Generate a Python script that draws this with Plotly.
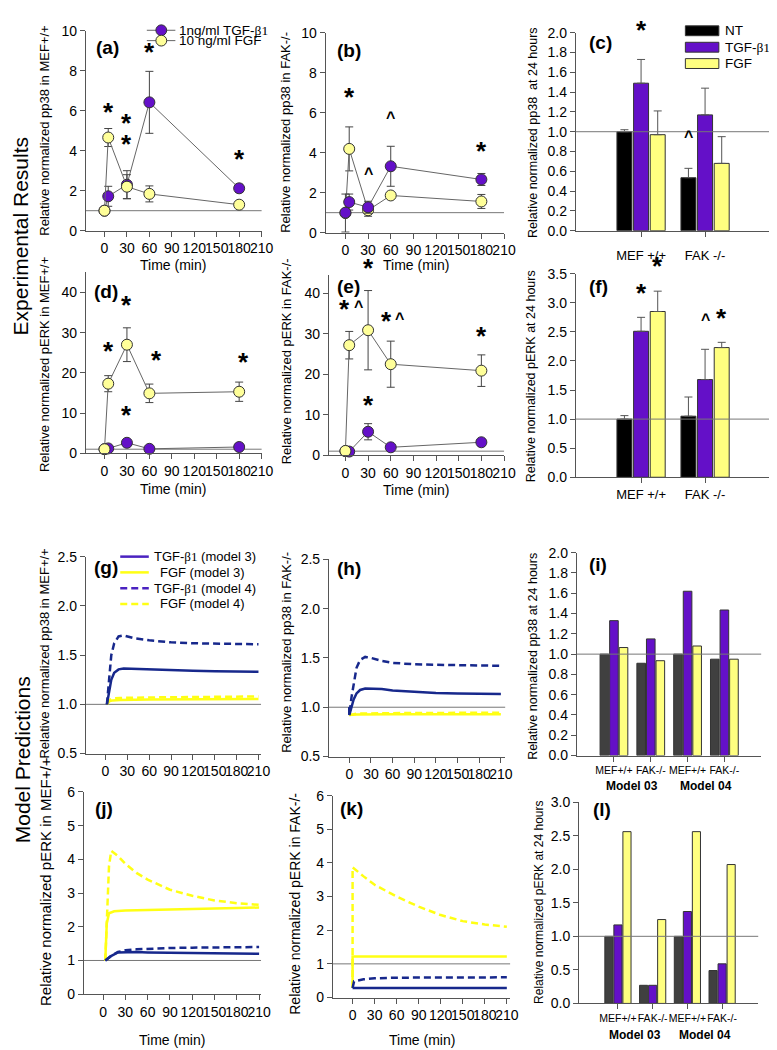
import plotly.graph_objects as go

W, H = 777, 1050
FONT = "Arial, 'Liberation Sans', sans-serif"

PURPLE = "#6410c8"
YEL_MARK = "#ffff99"
BAR_YEL = "#ffff80"
NAVY = "#17288c"
LINE_YEL = "#ffff14"
LEG_PURPLE = "#4a22c0"

# -------------------- DATA --------------------
time_points = [0, 5, 30, 60, 180]
time_ticks = [0, 30, 60, 90, 120, 150, 180, 210]

# (a) pp38 MEF+/+
a_tgf = [1.0, 1.72, 2.3, 6.42, 2.12]
a_tgf_err = [0.0, 0.5, 0.7, 1.55, 0.2]
a_fgf = [1.0, 4.66, 2.2, 1.84, 1.3]
a_fgf_err = [0.05, 0.45, 0.6, 0.4, 0.1]
# (b) pp38 FAK-/-
b_tgf = [1.0, 1.53, 1.27, 3.32, 2.66]
b_tgf_err = [0.0, 0.4, 0.3, 1.0, 0.3]
b_fgf = [0.98, 4.19, 1.12, 1.86, 1.56]
b_fgf_err = [0.95, 1.1, 0.3, 0.12, 0.35]
# (d) pERK MEF+/+
d_tgf = [1.0, 1.2, 2.6, 1.1, 1.55]
d_tgf_err = [0.0, 0.3, 0.5, 0.2, 0.3]
d_fgf = [1.0, 17.3, 27.0, 14.9, 15.3]
d_fgf_err = [0.2, 2.0, 4.2, 2.3, 2.4]
# (e) pERK FAK-/-
e_tgf = [1.0, 0.9, 5.8, 1.95, 3.2]
e_tgf_err = [0.0, 0.3, 2.0, 0.4, 0.6]
e_fgf = [1.05, 27.2, 30.9, 22.5, 20.9]
e_fgf_err = [0.2, 3.4, 9.8, 5.7, 3.9]

# (c), (f) 24 h bars
cells = ["MEF +/+", "FAK -/-"]
c_nt = [1.0, 0.535]
c_nt_err = [0.02, 0.095]
c_tgf = [1.49, 1.17]
c_tgf_err = [0.24, 0.27]
c_fgf = [0.97, 0.68]
c_fgf_err = [0.24, 0.27]
f_nt = [1.0, 1.05]
f_nt_err = [0.06, 0.33]
f_tgf = [2.51, 1.68]
f_tgf_err = [0.24, 0.52]
f_fgf = [2.85, 2.23]
f_fgf_err = [0.35, 0.09]

# (i), (l) model bars
model_cells = ["MEF+/+", "FAK-/-", "MEF+/+", "FAK-/-"]
model_groups = ["Model 03", "Model 04"]
i_nt = [1.0, 0.91, 1.0, 0.95]
i_tgf = [1.33, 1.15, 1.62, 1.435]
i_fgf = [1.065, 0.935, 1.08, 0.95]
l_nt = [1.0, 0.27, 1.0, 0.49]
l_tgf = [1.17, 0.27, 1.37, 0.59]
l_fgf = [2.56, 1.25, 2.56, 2.07]

# (g) model pp38 MEF+/+
g_t_tgf = [2, 5, 8, 12, 18, 25, 40, 60, 90, 120, 150, 180, 210]
g_tgf3 = [1.0, 1.15, 1.25, 1.32, 1.355, 1.365, 1.36, 1.355, 1.35, 1.34, 1.335, 1.33, 1.33]
g_tgf4 = [1.0, 1.3, 1.5, 1.62, 1.69, 1.70, 1.67, 1.65, 1.63, 1.62, 1.615, 1.61, 1.61]
g_t_fgf = [2, 5, 10, 20, 60, 120, 210]
g_fgf3 = [1.0, 1.03, 1.04, 1.045, 1.05, 1.052, 1.055]
g_fgf4 = [1.0, 1.04, 1.06, 1.065, 1.07, 1.075, 1.08]
# (h) model pp38 FAK-/-
h_t_tgf = [0, 0, 3, 6, 10, 15, 22, 30, 45, 60, 90, 120, 150, 180, 210]
h_tgf4 = [1.0, 0.92, 1.1, 1.25, 1.4, 1.48, 1.51, 1.50, 1.47, 1.45, 1.435, 1.43, 1.425, 1.42, 1.42]
h_tgf3 = [1.0, 0.92, 1.0, 1.08, 1.14, 1.175, 1.19, 1.19, 1.185, 1.17, 1.155, 1.145, 1.14, 1.135, 1.135]
h_t_fgf = [0, 10, 60, 120, 210]
h_fgf3 = [0.92, 0.925, 0.93, 0.93, 0.93]
h_fgf4 = [0.92, 0.935, 0.94, 0.945, 0.945]
# (j) model pERK MEF+/+
j_t_fgf4 = [3, 5, 8, 11, 20, 30, 45, 60, 90, 120, 150, 180, 210]
j_fgf4 = [1.0, 2.2, 3.8, 4.25, 4.1, 3.87, 3.6, 3.4, 3.1, 2.92, 2.78, 2.7, 2.65]
j_t_fgf3 = [3, 5, 8, 15, 30, 60, 90, 120, 150, 180, 210]
j_fgf3 = [1.0, 2.1, 2.4, 2.46, 2.48, 2.5, 2.52, 2.54, 2.55, 2.56, 2.57]
j_t_tgf = [3, 10, 20, 30, 45, 60, 90, 120, 150, 180, 210]
j_tgf4 = [1.0, 1.12, 1.25, 1.3, 1.33, 1.35, 1.37, 1.38, 1.39, 1.4, 1.4]
j_tgf3 = [1.0, 1.12, 1.24, 1.25, 1.25, 1.24, 1.23, 1.22, 1.21, 1.2, 1.2]
# (k) model pERK FAK-/-
k_t_fgf4 = [0, 0, 15, 30, 60, 90, 120, 150, 180, 210]
k_fgf4 = [0.28, 3.87, 3.6, 3.35, 3.0, 2.7, 2.45, 2.27, 2.17, 2.1]
k_t_fgf3 = [0, 0, 210]
k_fgf3 = [0.28, 1.22, 1.22]
k_t_tgf4 = [0, 2, 15, 30, 60, 120, 210]
k_tgf4 = [0.28, 0.48, 0.54, 0.57, 0.59, 0.6, 0.6]
k_t_tgf3 = [0, 210]
k_tgf3 = [0.28, 0.28]

# significance marks: (symbol, x, y)
a_marks = [("*", 5, 5.45), ("*", 30, 4.9), ("*", 30, 3.85), ("*", 60, 8.45), ("*", 180, 3.1)]
b_marks = [("*", 5, 6.3), ("^", 30, 2.4), ("^", 60, 5.2), ("*", 180, 3.6)]
d_marks = [("*", 5, 23), ("*", 30, 34.5), ("*", 69, 20.6), ("*", 186, 20.2), ("*", 30, 7.1)]
e_marks = [("*", -1, 33.7), ("^", 17.6, 34.1), ("*", 30, 43.8), ("*", 54.5, 30.8),
           ("^", 71, 31.0), ("*", 180, 27.0), ("*", 30, 10.0), ("^", 30, -0.6)]
# bar marks: (symbol, category index, series index 0=NT 1=TGF 2=FGF, y)
c_marks = [("*", 0, 1, 1.93), ("^", 1, 0, 0.84)]
f_marks = [("*", 0, 1, 3.0), ("*", 0, 2, 3.46), ("^", 1, 1, 2.52), ("*", 1, 2, 2.57)]

# -------------------- HELPERS --------------------
def fx(p):
    return p / W


def fy(p):
    return 1 - p / H


def sfx(n):
    return "" if n == 1 else str(n)


traces = []
axes = {}
shapes = []
annots = []

BASE_AX = dict(showline=True, linecolor="#555", linewidth=1, ticks="outside", ticklen=5,
               tickcolor="#555", tickwidth=1, showgrid=False, zeroline=False, tickangle=0,
               tickfont=dict(family=FONT, size=14, color="black"), fixedrange=True)


def add_axes(n, x0, x1, ytop, ybot, xr, yr, xkw, ykw):
    s = sfx(n)
    axes["xaxis" + s] = dict(BASE_AX, domain=[fx(x0), fx(x1)], range=xr, anchor="y" + s, **xkw)
    axes["yaxis" + s] = dict(BASE_AX, domain=[fy(ybot), fy(ytop)], range=yr, anchor="x" + s, **ykw)


def ref_line(n, layer="below"):
    s = sfx(n)
    shapes.append(dict(type="line", xref="x" + s + " domain", x0=0, x1=1, yref="y" + s, y0=1, y1=1,
                       line=dict(color="#777", width=1), layer=layer))


def scatter_series(n, t, v, err, fill):
    s = sfx(n)
    traces.append(go.Scatter(
        x=t, y=v, xaxis="x" + s, yaxis="y" + s, mode="lines+markers", showlegend=False,
        line=dict(color="#666", width=1),
        marker=dict(size=11, color=fill, line=dict(color="#333", width=1)),
        error_y=dict(type="data", array=err, color="#444", thickness=1, width=4),
        cliponaxis=False))


def bar_series(n, cats_x, vals, color, err=None):
    s = sfx(n)
    kw = {}
    if err is not None:
        kw["error_y"] = dict(type="data", symmetric=False, array=err, arrayminus=[0] * len(err),
                             color="#555", thickness=1, width=4)
    traces.append(go.Bar(x=cats_x, y=vals, xaxis="x" + s, yaxis="y" + s, showlegend=False,
                         marker=dict(color=color, line=dict(color="#333", width=1)), **kw))


def curve(n, t, v, color, dash="solid", width=2.5):
    s = sfx(n)
    traces.append(go.Scatter(x=t, y=v, xaxis="x" + s, yaxis="y" + s, mode="lines", showlegend=False,
                             line=dict(color=color, width=width, dash=dash), cliponaxis=False))


def mark(n, sym, x, y):
    s = sfx(n)
    if sym == "*":
        font = dict(family=FONT, size=26, color="black")
        ys = 10
    else:
        font = dict(family=FONT, size=16, color="black")
        ys = 11
    annots.append(dict(xref="x" + s, yref="y" + s, x=x, y=y, text="<b>%s</b>" % sym, showarrow=False,
                       font=font, xanchor="center", yanchor="middle", yshift=ys))


def ptext(text, x, y, size=14, angle=0, anchor="center", bold=False):
    if bold:
        text = "<b>%s</b>" % text
    annots.append(dict(xref="paper", yref="paper", x=fx(x), y=fy(y), text=text, showarrow=False,
                       textangle=angle, xanchor=anchor, yanchor="middle",
                       font=dict(family=FONT, size=size, color="black")))


BETA = "<span style='font-family:Liberation Serif, Times New Roman, serif'>β1</span>"

# -------------------- AXES --------------------
time_x = dict(tickvals=time_ticks)
add_axes(1, 79, 257.6, 15, 218, [-25, 210], [0, 10], time_x, dict(dtick=2))
add_axes(2, 322.7, 503.8, 17, 220, [-26.1, 210], [0, 10], time_x, dict(dtick=2))
cat2 = dict(tickvals=[0, 1], ticktext=cells, tickfont=dict(family=FONT, size=13, color="black"))
add_axes(3, 576.7, 773, 17, 218, [-1.02, 2.0], [0, 2.0], dict(cat2, ticklabelstandoff=8),
         dict(dtick=0.2, tickformat=".1f"))
add_axes(4, 79, 257.6, 260.3, 444, [-25, 210], [0, 45], time_x, dict(dtick=10))
add_axes(5, 326, 503.8, 263, 446, [-21.8, 210], [0, 44.55], time_x, dict(dtick=10))
add_axes(6, 576.7, 773, 261.7, 468.4, [-1.02, 2.0], [0, 3.5], cat2, dict(dtick=0.5, tickformat=".1f"))
add_axes(7, 79, 257, 549, 749, [-27, 213.5], [0.5, 2.5], time_x, dict(dtick=0.5, tickformat=".1f"))
add_axes(8, 326, 505, 551.7, 752, [-28.2, 216], [0.5, 2.5], time_x, dict(dtick=0.5, tickformat=".1f"))
cat4 = dict(tickvals=[0, 1, 2, 3], ticktext=model_cells, tickfont=dict(family=FONT, size=10.5, color="black"))
add_axes(9, 577.7, 765, 545, 751, [-1.01, 4.0], [0, 2.0], cat4, dict(dtick=0.2, tickformat=".1f"))
add_axes(10, 77, 257, 788, 993.3, [-25.9, 212.6], [0, 6], time_x, dict(dtick=1))
add_axes(11, 330, 510, 791.7, 996.7, [-26.8, 214.5], [0, 6], time_x, dict(dtick=1))
add_axes(12, 580, 762, 798.3, 1002.7, [-1.12, 4.04], [0, 3.0], cat4, dict(dtick=0.5, tickformat=".1f"))

# -------------------- TRACES --------------------
scatter_series(1, time_points, a_tgf, a_tgf_err, PURPLE)
scatter_series(1, time_points, a_fgf, a_fgf_err, YEL_MARK)
scatter_series(2, time_points, b_fgf, b_fgf_err, YEL_MARK)
scatter_series(2, time_points, b_tgf, b_tgf_err, PURPLE)
scatter_series(4, time_points, d_tgf, d_tgf_err, PURPLE)
scatter_series(4, time_points, d_fgf, d_fgf_err, YEL_MARK)
scatter_series(5, time_points, e_tgf, e_tgf_err, PURPLE)
scatter_series(5, time_points, e_fgf, e_fgf_err, YEL_MARK)

bar_series(3, [0, 1], c_nt, "black", c_nt_err)
bar_series(3, [0, 1], c_tgf, PURPLE, c_tgf_err)
bar_series(3, [0, 1], c_fgf, BAR_YEL, c_fgf_err)
bar_series(6, [0, 1], f_nt, "black", f_nt_err)
bar_series(6, [0, 1], f_tgf, PURPLE, f_tgf_err)
bar_series(6, [0, 1], f_fgf, BAR_YEL, f_fgf_err)
bar_series(9, [0, 1, 2, 3], i_nt, "#404040")
bar_series(9, [0, 1, 2, 3], i_tgf, PURPLE)
bar_series(9, [0, 1, 2, 3], i_fgf, BAR_YEL)
bar_series(12, [0, 1, 2, 3], l_nt, "#404040")
bar_series(12, [0, 1, 2, 3], l_tgf, PURPLE)
bar_series(12, [0, 1, 2, 3], l_fgf, BAR_YEL)

DASH = "7px,4px"
curve(7, g_t_fgf, g_fgf3, LINE_YEL)
curve(7, g_t_fgf, g_fgf4, LINE_YEL, DASH)
curve(7, g_t_tgf, g_tgf3, NAVY)
curve(7, g_t_tgf, g_tgf4, NAVY, DASH)
curve(8, h_t_fgf, h_fgf3, LINE_YEL)
curve(8, h_t_fgf, h_fgf4, LINE_YEL, DASH)
curve(8, h_t_tgf, h_tgf3, NAVY)
curve(8, h_t_tgf, h_tgf4, NAVY, DASH)
curve(10, j_t_fgf3, j_fgf3, LINE_YEL)
curve(10, j_t_fgf4, j_fgf4, LINE_YEL, DASH)
curve(10, j_t_tgf, j_tgf3, NAVY)
curve(10, j_t_tgf, j_tgf4, NAVY, DASH)
curve(11, k_t_fgf3, k_fgf3, LINE_YEL)
curve(11, k_t_fgf4, k_fgf4, LINE_YEL, DASH)
curve(11, k_t_tgf3, k_tgf3, NAVY)
curve(11, k_t_tgf4, k_tgf4, NAVY, DASH)

for n in [1, 2, 4, 5, 7, 8, 10, 11]:
    ref_line(n, "below")
for n in [3, 6, 9, 12]:
    ref_line(n, "above")

# -------------------- MARKS --------------------
for sym, x, y in a_marks:
    mark(1, sym, x, y)
for sym, x, y in b_marks:
    mark(2, sym, x, y)
for sym, x, y in d_marks:
    mark(4, sym, x, y)
for sym, x, y in e_marks:
    mark(5, sym, x, y)
SLOT = (1 - 0.22) / 3
for sym, c, k, y in c_marks:
    mark(3, sym, c + (k - 1) * SLOT, y)
for sym, c, k, y in f_marks:
    mark(6, sym, c + (k - 1) * SLOT, y)

# -------------------- TEXT --------------------
for lab, x, y in [("(a)", 87, 32), ("(b)", 332, 35), ("(c)", 588, 27), ("(d)", 85, 280),
                  ("(e)", 332, 275), ("(f)", 588, 275), ("(g)", 85, 560), ("(h)", 332, 561),
                  ("(i)", 588, 557), ("(j)", 86, 805), ("(k)", 335, 805), ("(l)", 592, 806)]:
    ptext(lab, x, y, size=19, anchor="left", bold=True)

ptext("Relative normalized pp38 in MEF+/+", 37, 116, 13, -90)
ptext("Relative normalized pp38 in FAK-/-", 282, 118, 13, -90)
ptext("Relative normalized pp38  at 24 hours", 533, 118, 12.5, -90)
ptext("Relative normalized pERK in MEF+/+", 37, 354, 13, -90)
ptext("Relative normalized pERK in FAK-/-", 283, 351, 13, -90)
ptext("Relative normalized pERK at 24 hours", 532, 366, 12.5, -90)
ptext("Relative normalized pp38 in MEF+/+", 37, 647, 13, -90)
ptext("Relative normalized pp38 in FAK-/-", 283, 646, 13, -90)
ptext("Relative normalized pp38 at 24 hours", 533, 650, 12.5, -90)
ptext("Relative normalized pERK in MEF+/+", 38, 879, 15, -90)
ptext("Relative normalized pERK in FAK-/-", 292, 901, 14, -90)
ptext("Relative normalized pERK at 24 hours", 540, 900, 12, -90)

for x, y in [(168, 253), (414, 253), (168, 480), (414, 481), (167, 1040), (420, 1040)]:
    ptext("Time (min)", x, y, 14)

ptext("Experimental Results", 13, 224, 21, -90)
ptext("Model Predictions", 15, 755, 21, -90)

for n, ypx in [(9, 782), (12, 1035)]:
    s = sfx(n)
    for xc, g in zip([0.5, 2.5], model_groups):
        annots.append(dict(xref="x" + s, yref="paper", x=xc, y=fy(ypx), text="<b>%s</b>" % g,
                           showarrow=False, xanchor="center", yanchor="middle",
                           font=dict(family=FONT, size=12, color="black")))

# legend (a)
for yc, fill, lab in [(14.5, PURPLE, "1ng/ml TGF-" + BETA), (25, YEL_MARK, "10 ng/ml FGF")]:
    shapes.append(dict(type="line", xref="paper", yref="paper", x0=fx(141), x1=fx(170), y0=fy(yc), y1=fy(yc),
                       line=dict(color="#666", width=1)))
    shapes.append(dict(type="circle", xref="paper", yref="paper", x0=fx(150.2), x1=fx(161.2),
                       y0=fy(yc + 5.5), y1=fy(yc - 5.5), fillcolor=fill, line=dict(color="#333", width=1)))
    ptext(lab, 172, yc, 13.5, anchor="left")

# legend (c)
for yc, fill, lab in [(15, "black", "NT"), (31.7, PURPLE, "TGF-" + BETA), (48.3, BAR_YEL, "FGF")]:
    shapes.append(dict(type="rect", xref="paper", yref="paper", x0=fx(688), x1=fx(722),
                       y0=fy(yc + 5), y1=fy(yc - 5), fillcolor=fill, line=dict(color="#333", width=1)))
    ptext(lab, 726, yc, 13.5, anchor="left")

# legend (g)
for yc, col, dash, lab, tx in [(549, LEG_PURPLE, "solid", "TGF-" + BETA + " (model 3)", 146.7),
                               (565, LINE_YEL, "solid", "FGF (model 3)", 152.7),
                               (581, LEG_PURPLE, DASH, "TGF-" + BETA + " (model 4)", 146.7),
                               (597, LINE_YEL, DASH, "FGF (model 4)", 152.7)]:
    shapes.append(dict(type="line", xref="paper", yref="paper", x0=fx(114), x1=fx(143), y0=fy(yc), y1=fy(yc),
                       line=dict(color=col, width=2.5, dash=dash)))
    ptext(lab, tx, yc, 13, anchor="left")

fig = go.Figure(data=traces)
fig.update_layout(width=W, height=H, autosize=False, margin=dict(l=0, r=0, t=0, b=0),
                  paper_bgcolor="white", plot_bgcolor="white", showlegend=False,
                  barmode="group", bargap=0.22, bargroupgap=0.1,
                  font=dict(family=FONT, size=14, color="black"),
                  shapes=shapes, annotations=annots, **axes)
fig.write_html("out.html")
